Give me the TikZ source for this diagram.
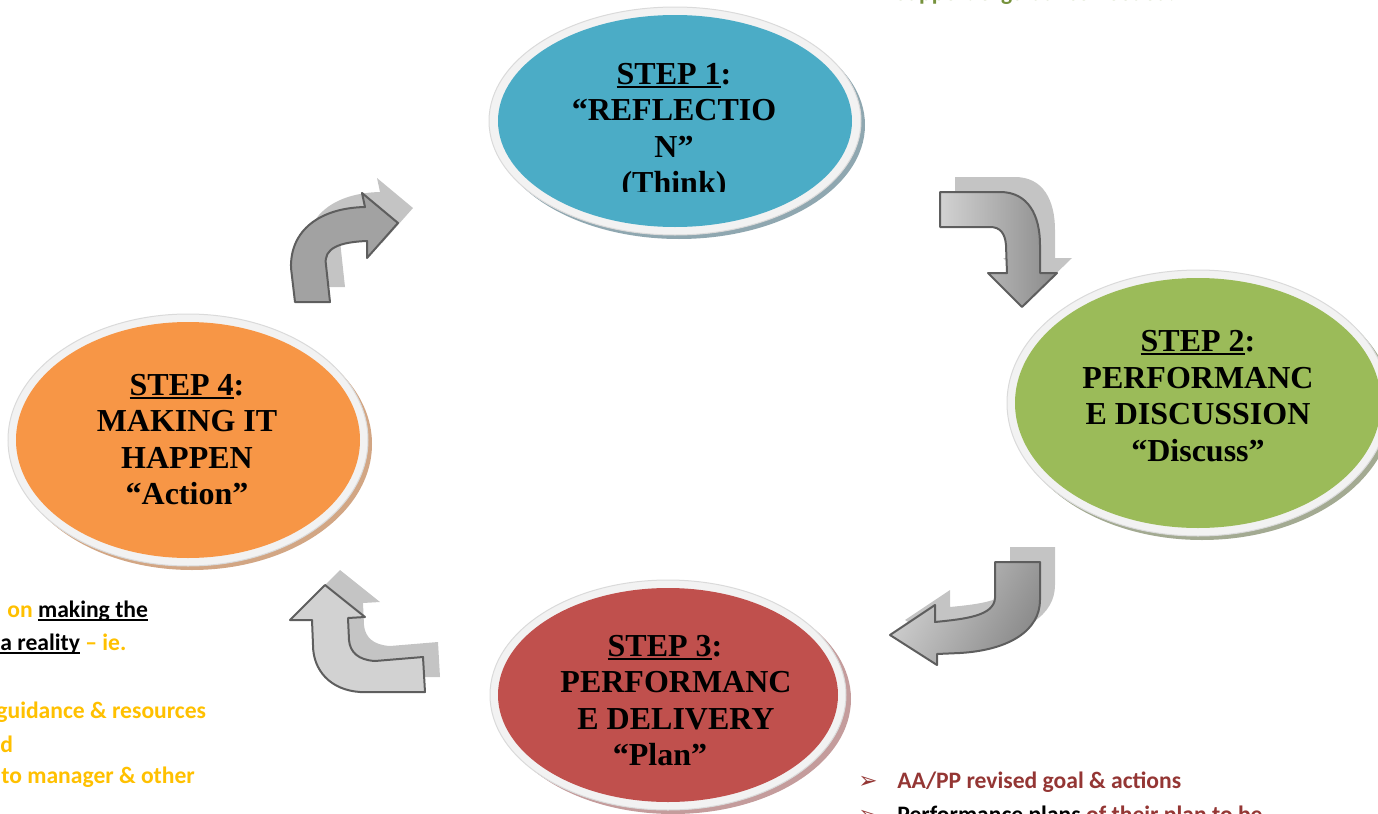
\documentclass[tikz,border=0pt]{standalone}
\usepackage{fontspec}
\setmainfont{Liberation Serif}
\newfontfamily\notefont{Carlito}
\newfontfamily\symfont{DejaVu Sans}
\usetikzlibrary{shapes.geometric}

\definecolor{stepblue}{HTML}{4BACC6}
\definecolor{stepgreen}{HTML}{9BBB59}
\definecolor{stepred}{HTML}{C0504D}
\definecolor{steporange}{HTML}{F79646}
\definecolor{blueshadow}{HTML}{8FA7B0}
\definecolor{greenshadow}{HTML}{A3AA92}
\definecolor{redshadow}{HTML}{C49C9C}
\definecolor{orangeshadow}{HTML}{D2A684}
\definecolor{rimgrey}{HTML}{F2F2F2}
\definecolor{rimedge}{HTML}{DADADA}
\definecolor{notegold}{HTML}{FFC000}
\definecolor{notered}{HTML}{943634}
\definecolor{notegreen}{HTML}{76923C}
\definecolor{arrowline}{HTML}{5E5E5E}
\definecolor{arrowdark}{HTML}{8A8A8A}
\definecolor{arrowmid}{HTML}{A2A2A2}
\definecolor{arrowlight}{HTML}{D2D2D2}
\definecolor{arrowshadow}{HTML}{C4C4C4}

% thick underline used for the step titles
\newcommand\stepul[1]{\setbox0=\hbox{#1}\rlap{\rule[-1.7pt]{\wd0}{1pt}}\box0}
% thinner underline for the notes
\newcommand\noteul[1]{\setbox0=\hbox{#1}\rlap{\rule[-1.9pt]{\wd0}{0.8pt}}\box0}
\newcommand\bullettip{{\symfont\fontsize{11.5}{12}\selectfont ➢}}

% outlines of the four bent block arrows (pixel coordinates)
\newcommand\arrowApath{(295,302) -- (330,302) -- (326,265)
  .. controls (323,248) and (340,242) .. (367,241) -- (367,258) -- (398,223)
  -- (362,193) -- (365,207) .. controls (320,208) and (290,230) .. (291,268) -- cycle}
\newcommand\arrowBpath{(940,192) -- (1000,192) .. controls (1028,192) and (1040,215) .. (1040,245)
  -- (1040,273) -- (1057,273) -- (1022,307) -- (988,273) -- (1007,273) -- (1006,245)
  .. controls (1005,233) and (1000,227) .. (990,227) -- (940,227) -- cycle}
\newcommand\arrowCpath{(995,562) -- (1040,562) -- (1040,600)
  .. controls (1040,630) and (1010,650) .. (960,653) -- (937,654) -- (937,665)
  -- (890,635) -- (935,605) -- (935,622) .. controls (965,619) and (994,616) .. (995,598) -- cycle}
\newcommand\arrowDpath{(325,585) -- (365,617) -- (348,618) -- (349,640)
  .. controls (350,652) and (358,660) .. (375,661) -- (423,657) -- (425,692) -- (360,692)
  .. controls (330,690) and (313,670) .. (313,645) -- (312,620) -- (290,620) -- cycle}

\begin{document}
\begin{tikzpicture}[x=0.5pt,y=-0.5pt,
  rim/.style={ellipse, fill=rimgrey, draw=rimedge, line width=0.5pt, inner sep=0pt, outer sep=0pt},
  shade ring/.style={ellipse, inner sep=0pt, outer sep=0pt},
  body/.style={ellipse, inner sep=0pt, outer sep=0pt},
  steptext/.style={align=center, inner sep=0pt, font=\bfseries\fontsize{16}{18.2}\selectfont},
  note/.style={anchor=base west, inner sep=0pt, font=\notefont\bfseries\fontsize{11.8}{14}\selectfont},
  arrowback/.style={fill=arrowshadow, shift={(15,-15)}},
  arrowfront/.style={draw=arrowline, line width=1pt, line join=round}
]
\useasboundingbox (0,0) rectangle (1378,814);
\clip (0,0) rectangle (1378,814);

% ---- step 1 ----
\node[shade ring, fill=blueshadow, minimum width=186pt, minimum height=114pt] (s1shadow) at (679,125) {};
\node[rim, minimum width=186pt, minimum height=114pt] (s1rim) at (675,121) {};
\node[body, fill=stepblue, minimum width=177pt, minimum height=106pt] (s1) at (675,121) {};
\begin{scope}
  \clip (480,0) rectangle (870,191);
  \node[steptext] (s1text) at (674,131.7) {\strut\stepul{STEP 1}:\\“REFLECTIO\\N”\\(Think)\strut};
\end{scope}

% ---- step 2 ----
\node[shade ring, fill=greenshadow, minimum width=191pt, minimum height=133pt] (s2shadow) at (1202,407) {};
\node[rim, minimum width=191pt, minimum height=133pt] (s2rim) at (1198,403) {};
\node[body, fill=stepgreen, minimum width=183pt, minimum height=125pt] (s2) at (1198,403) {};
\node[steptext] (s2text) at (1198,399.2) {\strut\stepul{STEP 2}:\\PERFORMANC\\E DISCUSSION\\“Discuss”\strut};

% ---- step 3 ----
\node[shade ring, fill=redshadow, minimum width=178pt, minimum height=115pt] (s3shadow) at (673,699) {};
\node[rim, minimum width=178pt, minimum height=115pt] (s3rim) at (668,695) {};
\node[body, fill=stepred, minimum width=170pt, minimum height=107pt] (s3) at (668,695) {};
\node[steptext] (s3text) at (676,703.7) {\strut\stepul{STEP 3}:\hspace*{11pt}\\PERFORMANC\\E DELIVERY\\“Plan”\hspace*{16pt}\strut};

% ---- step 4 ----
\node[shade ring, fill=orangeshadow, minimum width=180pt, minimum height=126pt] (s4shadow) at (192,444) {};
\node[rim, minimum width=180pt, minimum height=126pt] (s4rim) at (188,440) {};
\node[body, fill=steporange, minimum width=172pt, minimum height=118pt] (s4) at (188,440) {};
\node[steptext] (s4text) at (187,442.7) {\strut\stepul{STEP 4}:\\MAKING IT\\HAPPEN\\“Action”\strut};

% ---- bent arrows between the steps ----
\fill[arrowback] \arrowApath;
\path[arrowfront, left color=arrowmid, middle color=arrowlight, right color=arrowmid, shading angle=135] \arrowApath;
\fill[arrowback] \arrowBpath;
\path[arrowfront, left color=arrowlight, middle color=arrowlight!85!black, right color=arrowdark, shading angle=90] \arrowBpath;
\fill[arrowback] \arrowCpath;
\path[arrowfront, left color=arrowlight, middle color=arrowlight!90!black, right color=arrowdark, shading angle=60] \arrowCpath;
\fill[arrowback] \arrowDpath;
\path[arrowfront, left color=arrowlight, middle color=arrowmid, right color=arrowlight, shading angle=45] \arrowDpath;

% ---- notes ----
\node[note, text=notegreen] (n1) at (858,0) {\bullettip};
\node[note, text=notegreen] (n2) at (895,0) {Support \& guidance needed.};

\node[note, text=notegold] (a1) at (7,617) {on \textcolor{black}{\noteul{making the}}};
\node[note, text=notegold] (a2) at (0,650) {\textcolor{black}{\noteul{a reality}} – ie.};
\node[note, text=notegold] (a3) at (-4,718) {guidance \& resources};
\node[note, text=notegold] (a4) at (0,752) {d};
\node[note, text=notegold] (a5) at (1,783) {to manager \& other};

\node[note, text=notered] (b1) at (858,788) {\bullettip};
\node[note, text=notered] (b2) at (897,788) {AA/PP revised goal \& actions};
\node[note, text=notered] (b3) at (858,822) {\bullettip};
\node[note, text=notered] (b4) at (897,822) {\textcolor{black}{Performance plans} of their plan to be};
\end{tikzpicture}
\end{document}
